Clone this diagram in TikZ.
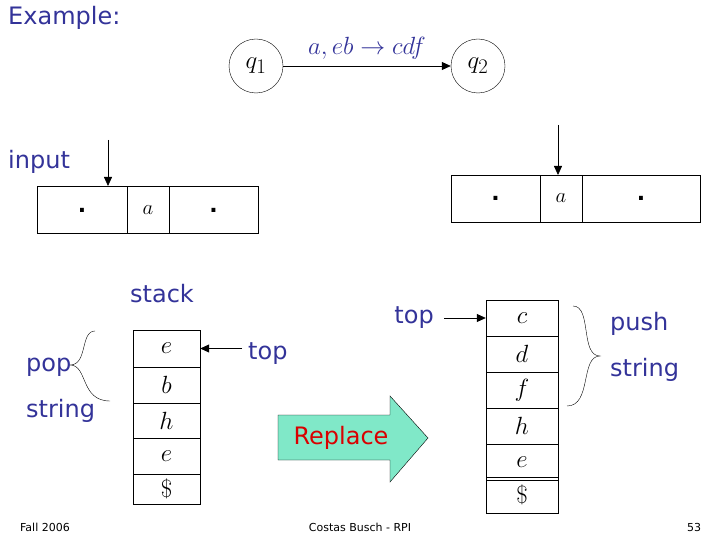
\documentclass[tikz,border=0pt]{standalone}
\usepackage{fontspec}
\setmainfont{DejaVu Sans}
\usetikzlibrary{arrows.meta}
\definecolor{lblue}{HTML}{333399}
\definecolor{rgreen}{HTML}{80E8C8}
\begin{document}
\begin{tikzpicture}[x=1pt,y=-1pt,
  lbl/.style={text=lblue,font=\fontsize{24}{26}\selectfont,inner sep=0pt},
  cell/.style={draw,thin,inner sep=0pt,font=\fontsize{26}{28}\selectfont},
  tcell/.style={draw,thin,minimum height=47pt,inner sep=0pt,font=\fontsize{22}{24}\selectfont},
  arr/.style={-{Triangle[length=9pt,width=8pt]},thick},
  st/.style={draw,circle,minimum size=54pt,font=\fontsize{28}{30}\selectfont}]
\useasboundingbox (0,0) rectangle (720,540);
\node[lbl,anchor=north west] (ex) at (8,6) {Example:};
\node[st] (q1) at (256,66) {$q_1$};
\node[st] (q2) at (478,66) {$q_2$};
\draw[arr] (q1) -- (q2) node[midway,above=6pt,lbl] {$a,eb\rightarrow cdf$};
% input tapes
\node[lbl,anchor=west] (inp) at (8,162) {input};
\node[tcell,minimum width=90pt] (t1) at (82,210) {\textbf{.}};
\node[tcell,minimum width=42pt] (t2) at (148,210) {$a$};
\node[tcell,minimum width=89pt] (t3) at (213.5,210) {\textbf{.}};
\coordinate (h1) at (108,140);
\draw[arr] (h1) -- (108,186);
\node[tcell,minimum width=89pt] (u1) at (495.5,198.5) {\textbf{.}};
\node[tcell,minimum width=42pt] (u2) at (561,198.5) {$a$};
\node[tcell,minimum width=118pt] (u3) at (641,198.5) {\textbf{.}};
\coordinate (h2) at (558,125);
\draw[arr] (h2) -- (558,175);
% left stack
\node[lbl] (stk) at (162,294) {stack};
\foreach \n/\t/\y/\h in {a/e/348.5/37,b/b/385/36,c/h/420.5/35,d/e/456/36,e/\$/489/30}{
  \node[cell,minimum width=67pt,minimum height=\h pt] (L\n) at (166.5,\y) {$\t$};}
\node[lbl,anchor=west] (top1) at (248,354) {top};
\coordinate (tt1) at (242,348.5);
\draw[arr] (tt1) -- (La.east);
\draw (95,331) .. controls (80,331) and (88,365) .. (70,365) .. controls (88,365) and (80,401) .. (110,401);
\node[lbl,anchor=west] (pop) at (26,367) {pop};
\node[lbl,anchor=west] (str1) at (26,411) {string};
% right stack
\foreach \n/\t/\y in {a/c/318,b/d/354,c/f/390,d/h/426,e/e/462,f/\$/495}{
  \node[cell,minimum width=72pt,minimum height=36pt] (R\n) at (522,\y) {$\t$};}
\node[lbl,anchor=east] (top2) at (434,318) {top};
\coordinate (tt2) at (444,318);
\draw[arr] (tt2) -- (Ra.west);
\draw (573,306) .. controls (592,306) and (580,356) .. (600,356) .. controls (580,356) and (592,406) .. (567,406);
\node[lbl,anchor=west] (push) at (610,324) {push};
\node[lbl,anchor=west] (str2) at (610,370) {string};
% replace arrow
\draw[fill=rgreen] (278,415) -- (390,415) -- (390,396) -- (428,438) -- (390,482) -- (390,460) -- (278,460) -- cycle;
\node[lbl,text=red!85!black] (rep) at (341,438) {Replace};
\node[font=\fontsize{11}{12}\selectfont] (f) at (45,527) {Fall 2006};
\node[font=\fontsize{11}{12}\selectfont] (c) at (360,527) {Costas Busch - RPI};
\node[font=\fontsize{11}{12}\selectfont] (p) at (694,527) {53};
\end{tikzpicture}
\end{document}
